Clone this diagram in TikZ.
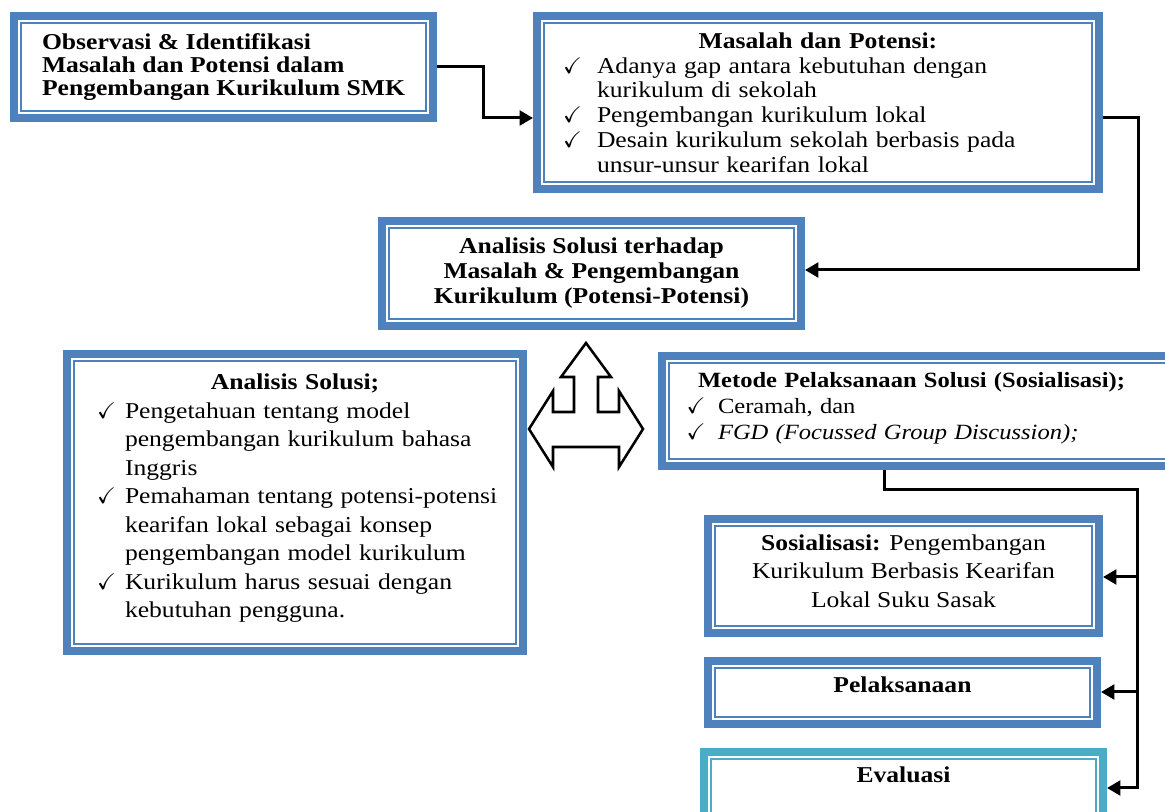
\documentclass[tikz,border=0pt]{standalone}
\usepackage{amssymb}
\usepackage{fontspec}
\setmainfont{Liberation Serif}[FakeStretch=1.13]
\usetikzlibrary{arrows.meta}

\definecolor{boxblue}{HTML}{4F81BD}
\definecolor{boxteal}{HTML}{4BACC6}

% check mark item with hanging indent
\newcommand{\cek}[3]{\par\noindent\hangindent=#2\hangafter=1%
  \makebox[#2][l]{\hspace{#1}{\fontsize{17}{17}\selectfont$\checkmark$}}#3}

\tikzset{
  dbox/.style={draw=#1, line width=6pt, fill=white, rectangle, inner sep=7.5pt,
    anchor=north west,
    path picture={\draw[#1, line width=1.1pt]
      ([shift={(5.25pt,-5.25pt)}]path picture bounding box.north west) rectangle
      ([shift={(-5.25pt,5.25pt)}]path picture bounding box.south east);}},
  dbox/.default=boxblue,
  conn/.style={line width=2.25pt, -{Triangle[length=10pt,width=11pt]}},
}

\begin{document}
\begin{tikzpicture}[x=0.75pt, y=-0.75pt]

  % Page frame
  \useasboundingbox (0,0) rectangle (1165,812);

  % Top row
  \node[dbox, minimum width=314.25pt, minimum height=76.5pt, align=left,
    font=\fontsize{17}{17.25}\selectfont\bfseries] (obs) at (10,12)
    {Observasi \& Identifikasi\\Masalah dan Potensi dalam\\Pengembangan Kurikulum SMK};

  \node[dbox, minimum width=421.5pt, minimum height=129.75pt, text width=406.5pt,
    align=left, font=\fontsize{17}{18.6}\selectfont] (mas) at (533,12)
    {{\centering\noindent\bfseries Masalah dan Potensi:\par}
     \cek{12pt}{37.5pt}{Adanya gap antara kebutuhan dengan\newline kurikulum di sekolah}
     \cek{12pt}{37.5pt}{Pengembangan kurikulum lokal}
     \cek{12pt}{37.5pt}{Desain kurikulum sekolah berbasis pada\newline unsur-unsur kearifan lokal}\par};

  % Middle
  \node[dbox, minimum width=314.25pt, minimum height=78.75pt, align=center,
    font=\fontsize{17}{18.75}\selectfont\bfseries] (anl) at (378,217)
    {Analisis Solusi terhadap\\Masalah \& Pengembangan\\Kurikulum (Potensi-Potensi)};

  \node[dbox, minimum width=342pt, minimum height=222.75pt, text width=327pt,
    align=left, text depth=181pt, font=\fontsize{17}{21.4}\selectfont] (sol) at (63,350)
    {{\centering\noindent\bfseries Analisis Solusi;\par}
     \cek{15pt}{36pt}{Pengetahuan tentang model\newline pengembangan kurikulum bahasa\newline Inggris}
     \cek{15pt}{36pt}{Pemahaman tentang potensi-potensi\newline kearifan lokal sebagai konsep\newline pengembangan model kurikulum}
     \cek{15pt}{36pt}{Kurikulum harus sesuai dengan\newline kebutuhan pengguna.}\par};

  \node[dbox, minimum width=400.5pt, minimum height=82.5pt, text width=385.5pt,
    align=left, text depth=47pt, font=\fontsize{16.3}{19.5}\selectfont] (met) at (658,352)
    {\noindent\hspace*{19.5pt}\textbf{Metode Pelaksanaan Solusi (Sosialisasi);}\par
     \cek{11pt}{34.5pt}{Ceramah, dan}
     \cek{11pt}{34.5pt}{\textit{FGD (Focussed Group Discussion);}}\par};

  % Right column
  \node[dbox, minimum width=293.25pt, minimum height=85.5pt, align=center, text depth=7.5pt,
    font=\fontsize{17}{21.4}\selectfont] (sos) at (704,515)
    {\textbf{Sosialisasi:} Pengembangan\\Kurikulum Berbasis Kearifan\\Lokal Suku Sasak};

  \node[dbox, minimum width=291.75pt, minimum height=47.25pt, text depth=12pt,
    font=\fontsize{17}{20}\selectfont\bfseries] (pel) at (704,657) {Pelaksanaan};

  \node[dbox=boxteal, minimum width=299.25pt, minimum height=63pt, text depth=28.6pt,
    font=\fontsize{17}{20}\selectfont\bfseries] (eva) at (700,748) {Evaluasi};

  % Three-way arrow between the solution boxes
  \draw[line width=1.9pt, fill=white]
    (586,343) -- (611,377) -- (598,377) -- (598,412) -- (619,412) -- (619,391)
    -- (643,429) -- (619,467) -- (619,447) -- (553,447) -- (553,467) -- (529,429)
    -- (553,391) -- (553,412) -- (574,412) -- (574,377) -- (561,377) -- cycle;

  % Connectors
  \draw[conn] (obs.east) -- ++(46,0) |- (mas.west |- 0,118);
  \draw[conn] (mas.east |- 0,118) -- ++(35,0) |- (anl.east |- 0,270);

  \coordinate (bus) at (1137,490);
  \draw[conn] (met.south -| 884,0) |- (bus) |- (eva.east |- 0,788);
  \draw[conn] (bus |- 0,577) -- (sos.east |- 0,577);
  \draw[conn] (bus |- 0,692) -- (pel.east |- 0,692);

\end{tikzpicture}
\end{document}
